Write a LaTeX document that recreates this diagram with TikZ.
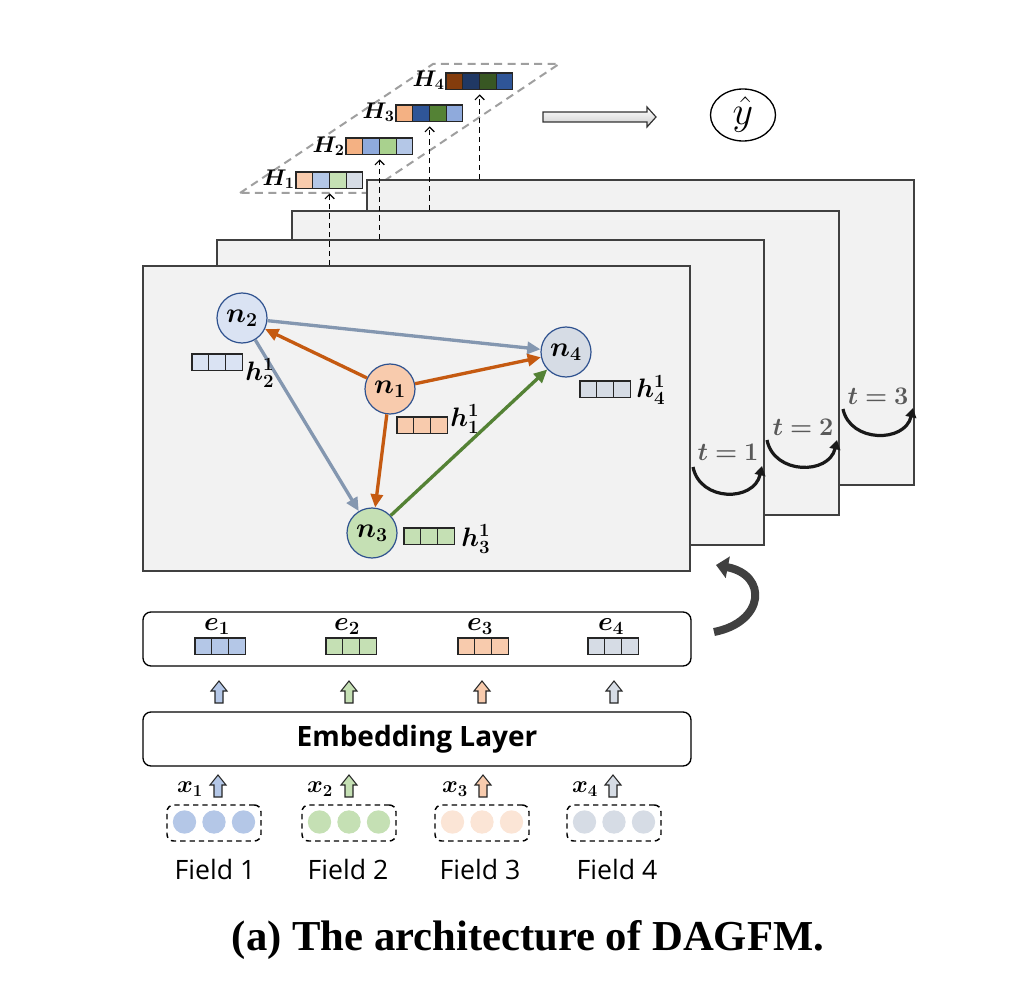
\RequirePackage{fix-cm}
\documentclass[tikz,border=0pt]{standalone}
\usepackage{amsmath}
\usepackage{bm}
\usepackage{fontspec}
\setsansfont{Open Sans}
\newfontfamily\capfont{Liberation Serif}
\usetikzlibrary{arrows.meta,shapes.geometric,calc}

\definecolor{cBlueL}{HTML}{B4C7E7}
\definecolor{cBlueLL}{HTML}{DAE3F3}
\definecolor{cBlueM}{HTML}{8FAADC}
\definecolor{cBlueD}{HTML}{2F5597}
\definecolor{cNavy}{HTML}{203864}
\definecolor{cGreenL}{HTML}{C5E0B4}
\definecolor{cGreenM}{HTML}{A9D18E}
\definecolor{cGreenD}{HTML}{548235}
\definecolor{cGreenDD}{HTML}{385723}
\definecolor{cOrL}{HTML}{F8CBAD}
\definecolor{cOrLL}{HTML}{FBE5D6}
\definecolor{cOrM}{HTML}{F4B183}
\definecolor{cOrD}{HTML}{C55A11}
\definecolor{cBrown}{HTML}{843C0C}
\definecolor{cGrayL}{HTML}{D6DCE5}
\definecolor{cEdgeB}{HTML}{8497B0}
\definecolor{cFrame}{HTML}{404040}
\definecolor{cFrameFill}{HTML}{F2F2F2}
\definecolor{cNodeB}{HTML}{2F528F}
\definecolor{cTxtGray}{HTML}{595959}

\tikzset{
  dagframe/.style={draw=cFrame, fill=cFrameFill, line width=1.5pt, minimum width=410.25pt, minimum height=228pt, inner sep=0pt},
  nnode/.style={circle, draw=cNodeB, line width=0.9pt, minimum size=37.5pt, inner sep=0pt, font=\fontsize{21}{25}\selectfont},
  mlab/.style={inner sep=0pt, font=\fontsize{20}{24}\selectfont},
  Hlab/.style={inner sep=0pt, font=\fontsize{17}{20}\selectfont},
  xlab/.style={inner sep=0pt, font=\fontsize{18}{21}\selectfont},
  tlab/.style={inner sep=0pt, text=cTxtGray, font=\fontsize{19}{22}\selectfont},
  cellbox/.style={draw=black!85, line width=0.9pt},
  edgeO/.style={draw=cOrD, line width=2.5pt, -{Triangle[length=10pt,width=9pt]}},
  edgeB/.style={draw=cEdgeB, line width=2.5pt, -{Triangle[length=10pt,width=9pt]}},
  edgeG/.style={draw=cGreenD, line width=2.5pt, -{Triangle[length=10pt,width=9pt]}},
  tarr/.style={draw=black!90, line width=2.4pt, -{Triangle[length=7pt,width=8pt]}},
  dasharr/.style={draw=black, line width=0.9pt, dash pattern=on 4pt off 3pt, -{Straight Barb[length=3.5pt,width=7pt]}, shorten >=3pt},
  pdash/.style={draw=gray!75, line width=1.5pt, dash pattern=on 6pt off 4pt},
  rbox/.style={draw=black, line width=1pt, rounded corners=6pt, minimum width=411pt, minimum height=40.5pt, inner sep=0pt},
  fbox/.style={draw=black, line width=1.1pt, dash pattern=on 4pt off 3pt, rounded corners=5pt, minimum width=70.5pt, minimum height=27pt, inner sep=0pt},
  fdot/.style={circle, minimum size=17.5pt, inner sep=0pt, draw=none},
  flab/.style={inner sep=0pt, font=\sffamily\fontsize{20}{24}\selectfont},
  blk/.style={draw=black!85, line width=0.8pt, line join=miter},
}

% #1 name, #2 x left, #3 y top, #4 number of cells, #5 colours
\newcommand\cellrow[5]{%
  \node[inner sep=0pt, minimum width={#4*16.7*0.75pt}, minimum height={16.8*0.75pt}, anchor=north west] (#1) at (#2,#3) {};
  \foreach \c [count=\i from 0] in {#5} {\draw[cellbox, fill=\c] ({#2+\i*16.7},#3) rectangle ++(16.7,16.8);}
}
% #1 x centre, #2 y bottom, #3 fill
\newcommand\upblk[3]{%
  \draw[blk, fill=#3] (#1-4,#2) -- (#1+4,#2) -- (#1+4,#2-12) -- (#1+8,#2-12) -- (#1,#2-22) -- (#1-8,#2-12) -- (#1-4,#2-12) -- cycle;
}

\begin{document}
\begin{tikzpicture}[x=0.75pt,y=-0.75pt]
\useasboundingbox (0,0) rectangle (1018,988);

% parallelogram of the readout vectors
\draw[pdash] (240,193) -- (433,64) -- (559,64) -- (366,193) -- cycle;

% H vectors
\node[Hlab, anchor=east] (H1l) at (295,179) {$\bm{H_1}$};
\cellrow{H1}{296}{172}{4}{cOrL,cBlueL,cGreenL,cGrayL}
\node[Hlab, anchor=east] (H2l) at (345,146) {$\bm{H_2}$};
\cellrow{H2}{346}{138}{4}{cOrM,cBlueM,cGreenM,cBlueL}
\node[Hlab, anchor=east] (H3l) at (395,112) {$\bm{H_3}$};
\cellrow{H3}{396}{105}{4}{cOrM,cBlueD,cGreenD,cBlueM}
\node[Hlab, anchor=east] (H4l) at (445,80) {$\bm{H_4}$};
\cellrow{H4}{446}{73}{4}{cBrown,cNavy,cGreenDD,cBlueD}

% frames, back to front
\node[dagframe] (f3) at (640.5,332.5) {};
\node[tlab] (t3) at (878,396) {$\bm{t=3}$};
\draw[tarr] (843,409) .. controls (850,443) and (905,443) .. (913,408);
\node[dagframe] (f2) at (565.5,363) {};
\node[tlab] (t2) at (803,427) {$\bm{t=2}$};
\draw[tarr] (767,440) .. controls (774,475) and (829,475) .. (837,440);
\node[dagframe] (f1) at (490.5,392.5) {};
\node[tlab] (t1) at (728,452) {$\bm{t=1}$};
\draw[tarr] (693,467) .. controls (700,502) and (754,502) .. (762,466);
\node[dagframe] (f0) at (416.5,418.5) {};

% graph
\node[nnode, fill=cOrL] (n1) at (390,389) {$\bm{n_1}$};
\node[nnode, fill=cBlueLL] (n2) at (242,318) {$\bm{n_2}$};
\node[nnode, fill=cGreenL] (n3) at (372,533) {$\bm{n_3}$};
\node[nnode, fill=cGrayL] (n4) at (566,352) {$\bm{n_4}$};
\draw[edgeB] (n2) -- (n4);
\draw[edgeB] (n2) -- (n3);
\draw[edgeO] (n1) -- (n2);
\draw[edgeO] (n1) -- (n4);
\draw[edgeO] (n1) -- (n3);
\draw[edgeG] (n3) -- (n4);

\cellrow{h2}{192}{354}{3}{cBlueLL,cBlueLL,cBlueLL}
\node[mlab, anchor=west] (h2l) at (245,373) {$\bm{h_2^1}$};
\cellrow{h1}{397}{417}{3}{cOrL,cOrL,cOrL}
\node[mlab, anchor=west] (h1l) at (450,419) {$\bm{h_1^1}$};
\cellrow{h4}{580}{381}{3}{cGrayL,cGrayL,cGrayL}
\node[mlab, anchor=west] (h4l) at (636,390) {$\bm{h_4^1}$};
\cellrow{h3}{404}{528}{3}{cGreenL,cGreenL,cGreenL}
\node[mlab, anchor=west] (h3l) at (461,539) {$\bm{h_3^1}$};

% readout arrows
\draw[dasharr] (H1.south |- f0.north) -- (H1.south);
\draw[dasharr] (H2.south |- f1.north) -- (H2.south);
\draw[dasharr] (H3.south |- f2.north) -- (H3.south);
\draw[dasharr] (H4.south |- f3.north) -- (H4.south);

% prediction
\draw[draw=black!80, line width=0.9pt, top color=white, bottom color=gray!40]
  (543,112) -- (647,112) -- (647,107) -- (656,117) -- (647,127) -- (647,122) -- (543,122) -- cycle;
\node[draw=black, ellipse, line width=1pt, minimum width=48.75pt, minimum height=39pt, inner sep=0pt, font=\fontsize{30}{34}\selectfont] (yhat) at (743,115) {$\hat{y}$};

% embeddings
\node[rbox] (ebox) at (417,639) {};
\node[mlab] (e1l) at (217,627) {$\bm{e_1}$};
\node[mlab] (e2l) at (347,627) {$\bm{e_2}$};
\node[mlab] (e3l) at (480,627) {$\bm{e_3}$};
\node[mlab] (e4l) at (611,627) {$\bm{e_4}$};
\cellrow{e1}{195}{638}{3}{cBlueL,cBlueL,cBlueL}
\cellrow{e2}{326}{638}{3}{cGreenL,cGreenL,cGreenL}
\cellrow{e3}{458}{638}{3}{cOrL,cOrL,cOrL}
\cellrow{e4}{588}{638}{3}{cGrayL,cGrayL,cGrayL}

\upblk{219}{703}{cBlueL}
\upblk{349}{703}{cGreenL}
\upblk{482}{703}{cOrL}
\upblk{614}{703}{cGrayL}

\node[rbox, font=\sffamily\bfseries\fontsize{21}{25}\selectfont] (emb) at (417,739) {Embedding Layer};

% inputs
\node[xlab] (x1) at (190,789) {$\bm{x_1}$};
\node[xlab] (x2) at (320,789) {$\bm{x_2}$};
\node[xlab] (x3) at (455,789) {$\bm{x_3}$};
\node[xlab] (x4) at (585,789) {$\bm{x_4}$};
\upblk{218}{797}{cBlueL}
\upblk{349}{797}{cGreenL}
\upblk{483}{797}{cOrL}
\upblk{613}{797}{cGrayL}

\node[fbox] (fb1) at (214,823) {};
\node[fbox] (fb2) at (349,823) {};
\node[fbox] (fb3) at (482,823) {};
\node[fbox] (fb4) at (614,823) {};
\foreach \k/\cx/\col in {1/214/cBlueL, 2/349/cGreenL, 3/482/cOrLL, 4/614/cGrayL}{
  \node[fdot, fill=\col] (d\k a) at (\cx-29.5,822) {};
  \node[fdot, fill=\col] (d\k b) at (\cx,822) {};
  \node[fdot, fill=\col] (d\k c) at (\cx+29.5,822) {};
}
\node[flab] (F1) at (215,869) {Field 1};
\node[flab] (F2) at (348,869) {Field 2};
\node[flab] (F3) at (480,869) {Field 3};
\node[flab] (F4) at (617,869) {Field 4};

% feed-back arrow
\draw[draw=cFrame, line width=6pt, -{Triangle[length=9pt,width=16pt]}]
  (714,632) .. controls (765,622) and (768,575) .. (716,565);

% caption
\node[inner sep=0pt, font=\capfont\bfseries\fontsize{32}{38}\selectfont] (cap) at (528,940) {(a) The architecture of DAGFM.};
\end{tikzpicture}
\end{document}
